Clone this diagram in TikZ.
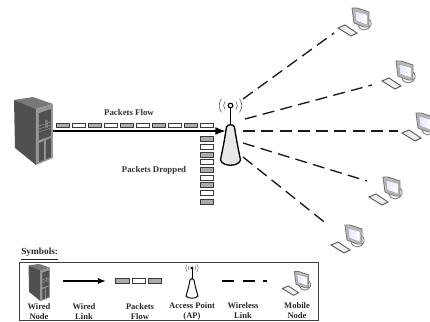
\documentclass[tikz,border=0pt]{standalone}
\usepackage{fontspec}
\setmainfont{Liberation Serif}
\usetikzlibrary{arrows.meta}
\definecolor{pktgray}{HTML}{ABABAB}
\definecolor{pktedge}{HTML}{3A3A3A}
\definecolor{srvdark}{HTML}{505050}
\definecolor{srvmid}{HTML}{787878}
\definecolor{srvtop}{HTML}{969696}
\tikzset{
  lbl/.style={font=\bfseries\fontsize{6.4}{7}\selectfont, align=center, text=black!85, inner sep=0pt},
  toplbl/.style={font=\bfseries\fontsize{6.6}{8}\selectfont, text=black!80, inner sep=0pt},
  pktg/.style={draw=pktedge, fill=pktgray, line width=.55pt, minimum width=10.2pt, minimum height=3.5pt, inner sep=0pt},
  pktw/.style={draw=pktedge, fill=white, line width=.55pt, minimum width=10.2pt, minimum height=3.5pt, inner sep=0pt},
  wired/.style={line width=1.5pt, black, -{Latex[length=8pt,width=6pt]}},
  wireless/.style={line width=1pt, black!90, dash pattern=on 9pt off 4.7pt},
  pics/server/.style={code={
    \fill[srvmid] (-19,-30) -- (0,-33) -- (20,-26) -- (3,-21) -- cycle;
    \fill[srvdark] (-19,-30) -- (3,-21) -- (3,35) -- (-18,18) -- cycle;
    \fill[srvtop] (3,-21) -- (20,-26) -- (20,28) -- (3,35) -- cycle;
    \fill[srvdark] (6,-17) -- (18,-21) -- (18,6) -- (6,10) -- cycle;
    \fill[srvmid] (12,-10) rectangle (15,-2);
    \draw[srvtop, line width=.3pt] (6,-4) -- (18,-8) (6,-1) -- (18,-5) (6,2) -- (18,-2);
    \fill[srvdark] (6,13) -- (11,11) -- (11,30) -- (6,32) -- cycle;
    \fill[srvdark] (13,10) -- (18,8) -- (18,27) -- (13,29) -- cycle;
  }},
  pics/accesspoint/.style={code={
    \draw[black, line width=.8pt] (0,-20) -- (0,0);
    \draw[black, line width=.8pt, fill=white] (0,-21.5) circle (2.3);
    \foreach \r in {5.5,9}{
      \draw[black!60, line width=.5pt] (-\r,-21.5-\r*.75) arc[start angle=217, end angle=143, radius=\r*1.25];
      \draw[black!60, line width=.5pt] (\r,-21.5-\r*.75) arc[start angle=-37, end angle=37, radius=\r*1.25];
    }
    \draw[black, line width=1pt, left color=black!8, middle color=white, right color=black!10]
      (-4,0) .. controls (-3,-3) and (3,-3) .. (4,0)
      .. controls (6,14) and (9,28) .. (10,33)
      .. controls (8,40) and (-8,40) .. (-10,33)
      .. controls (-9,28) and (-6,14) .. (-4,0) -- cycle;
  }},
  pics/accesspointsmall/.style={code={
    \draw[black, line width=.6pt] (0,-11) -- (0,0);
    \draw[black, line width=.5pt, fill=white] (0,-12) circle (1.2);
    \foreach \r in {3,5}{
      \draw[black!60, line width=.35pt] (-\r,-12-\r*.75) arc[start angle=217, end angle=143, radius=\r*1.25];
      \draw[black!60, line width=.35pt] (\r,-12-\r*.75) arc[start angle=-37, end angle=37, radius=\r*1.25];
    }
    \draw[black, line width=.7pt, fill=white]
      (-2,0) .. controls (-1.5,-2) and (1.5,-2) .. (2,0)
      .. controls (3,6) and (5,13) .. (6,16)
      .. controls (4,19) and (-4,19) .. (-6,16)
      .. controls (-5,13) and (-3,6) .. (-2,0) -- cycle;
  }},
  pics/mobile/.style={code={
    \draw[black!55, line width=.6pt, fill=white] (-3,7) .. controls (-1,14) and (8,13) .. (10,7) .. controls (11,3) and (8,1) .. (7,1);
    \draw[black!55, line width=.6pt, fill=black!28] (-9,-10) -- (-4,-10) -- (8,-6) -- (8,9) -- (3,9) -- (-7,5) -- cycle;
    \draw[black!40, line width=.3pt, left color=blue!10, right color=white] (-6,-7) -- (6,-3.5) -- (6,7) -- (-5,3) -- cycle;
    \draw[black!65, line width=.7pt, fill=black!6] (-23,10) -- (-16,7) -- (-4,15) -- (-10,18) -- cycle;
  }}
}
\begin{document}
\begin{tikzpicture}[x=0.75pt,y=-0.75pt]
\useasboundingbox (0,0) rectangle (430,322);
% main figure
\pic at (33,130) {server};
\coordinate (srv) at (53,131);
\coordinate (ap) at (230.5,127);
\coordinate (apin) at (226,131);
\pic at (ap) {accesspoint};
\draw[wired] (srv) -- (apin);
\node[toplbl] (flowlbl) at (129,112) {Packets Flow};
\node[toplbl] (droplbl) at (154,170) {Packets Dropped};
\foreach \x/\s [count=\i] in {63/pktg,79/pktw,95/pktg,111/pktw,127/pktg,143/pktw,159/pktg,175/pktw,191/pktg,207/pktw}
  \node[\s] (f\i) at (\x,125.5) {};
\foreach \y/\s [count=\i] in {139/pktg,147/pktw,155/pktg,162/pktw,170/pktg,178/pktw,185/pktg,193/pktw,202/pktg}
  \node[\s] (d\i) at (207,\y) {};
% mobile nodes
\coordinate (m1) at (361,18);
\coordinate (m2) at (405,71);
\coordinate (m3) at (425,123);
\coordinate (m4) at (392,187);
\coordinate (m5) at (354,235);
\foreach \m in {m1,m2,m3,m4,m5} \pic at (\m) {mobile};
\coordinate (a1) at (243,99);
\coordinate (a2) at (245,119);
\coordinate (a3) at (243,131);
\coordinate (a4) at (243,143);
\coordinate (a5) at (243,157);
\coordinate (e1) at (334,33);
\coordinate (e2) at (372,85);
\coordinate (e3) at (398,131);
\coordinate (e4) at (367,181);
\coordinate (e5) at (328,225);
\foreach \i in {1,...,5} \draw[wireless] (a\i) -- (e\i);
% legend
\node[font=\bfseries\fontsize{7}{8}\selectfont, text=black!85, inner sep=0pt, anchor=west] (sym) at (21,254) {\underline{Symbols:}};
\node[draw=black!75, line width=.7pt, minimum width=224pt, minimum height=43.5pt, inner sep=0pt, anchor=north west] (box) at (19,262) {};
\pic[scale=.55] at (39,282) {server};
\coordinate (wl1) at (63,281);
\coordinate (wl2) at (106,281);
\draw[line width=1pt, black, -{Latex[length=6pt,width=4.5pt]}] (wl1) -- (wl2);
\node[pktg] (s1) at (122.5,281) {};
\node[pktw] (s2) at (139,281) {};
\node[pktg] (s3) at (155,281) {};
\pic at (192,280) {accesspointsmall};
\coordinate (wd1) at (222,281);
\coordinate (wd2) at (267,281);
\draw[line width=1pt, black, dash pattern=on 9pt off 6.5pt] (wd1) -- (wd2);
\pic[scale=.85] at (302,280) {mobile};
\node[lbl] (t1) at (39,311.5) {Wired\\Node};
\node[lbl] (t2) at (84,311.5) {Wired\\Link};
\node[lbl] (t3) at (140,311.5) {Packets\\Flow};
\node[lbl] (t4) at (192,311.5) {Access Point\\(AP)};
\node[lbl] (t5) at (243,310.5) {Wireless\\Link};
\node[lbl] (t6) at (297,310.5) {Mobile\\Node};
\end{tikzpicture}
\end{document}
